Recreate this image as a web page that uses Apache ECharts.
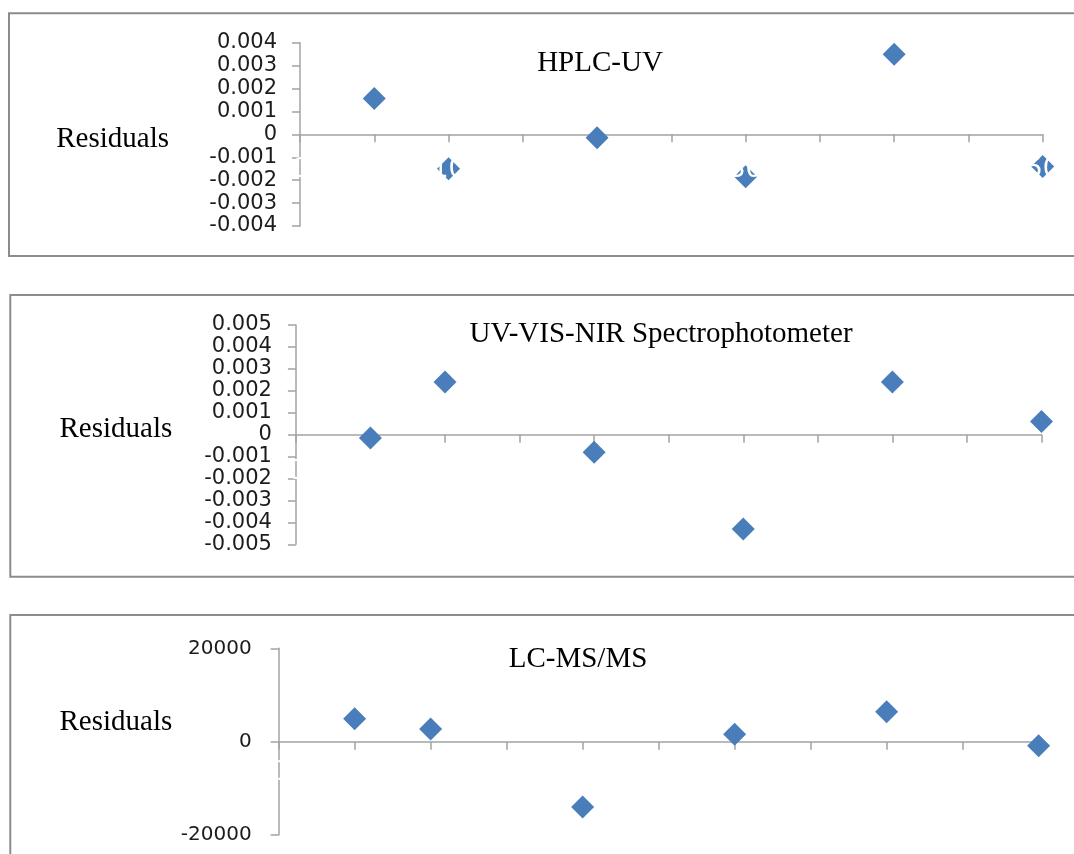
<!DOCTYPE html>
<html>
<head>
<meta charset="utf-8">
<script src="https://cdn.jsdelivr.net/npm/echarts@6/dist/echarts.min.js"></script>
<style>
  html, body { margin: 0; padding: 0; background: #ffffff; }
  #chart { width: 1074px; height: 854px; }
</style>
</head>
<body>
<div id="chart"></div>
<script>
// Concentration levels (x) shared by the three residual plots
const concentrations = [5, 10, 20, 30, 40, 50];
const xTickStep = 5;
const xMin = 0;
const xMax = 50;
const xLabelStep = 10;

// Residuals per method
const hplcResiduals = [0.00157, -0.0015, -0.00015, -0.00185, 0.0035, -0.0014];
const uvVisResiduals = [-0.00015, 0.0024, -0.0008, -0.0043, 0.0024, 0.0006];
const lcmsResiduals = [4900, 2700, -14000, 1600, 6400, -900];

// Y-axis tick values
const hplcTicks = [-0.004, -0.003, -0.002, -0.001, 0, 0.001, 0.002, 0.003, 0.004];
const uvVisTicks = [-0.005, -0.004, -0.003, -0.002, -0.001, 0, 0.001, 0.002, 0.003, 0.004, 0.005];
const lcmsTicks = [-20000, 0, 20000];

const panelTitles = ['HPLC-UV', 'UV-VIS-NIR Spectrophotometer', 'LC-MS/MS'];
const yAxisTitle = 'Residuals';

const MARKER = '#4a7ebb';
const AXIS_GRAY = '#a3a3a3';
const FRAME_GRAY = '#8c8c8c';
const SERIF = '"Liberation Serif", "Times New Roman", serif';
const SANS = '"DejaVu Sans", sans-serif';

function fmtTick(decimals) {
  return function (v) {
    if (Math.abs(v) < 1e-12) return '0';
    return decimals ? v.toFixed(decimals) : String(Math.round(v));
  };
}

// Layout of each framed panel
const panels = [
  {
    values: hplcResiduals, ticks: hplcTicks, decimals: 3,
    grid: { left: 300, top: 42.7, width: 742.7, height: 183.3 },
    frame: { x: 9, y: 13.3, width: 1090, height: 242.7 },
    title: { x: 600, y: 63.5 }, name: { x: 112.6, y: 139 },
    labelSize: 21, labelMargin: 23, whiteMargin: -69
  },
  {
    values: uvVisResiduals, ticks: uvVisTicks, decimals: 3,
    grid: { left: 295.9, top: 325, width: 745.6, height: 219.3 },
    frame: { x: 10.3, y: 295, width: 1090, height: 281.7 },
    title: { x: 661, y: 334 }, name: { x: 115.9, y: 429.5 },
    labelSize: 21, labelMargin: 24, whiteMargin: -85
  },
  {
    values: lcmsResiduals, ticks: lcmsTicks, decimals: 0,
    grid: { left: 278.6, top: 648.3, width: 760, height: 186.7 },
    frame: { x: 10.3, y: 615, width: 1090, height: 300 },
    title: { x: 578, y: 659 }, name: { x: 115.9, y: 722 },
    labelSize: 20, labelMargin: 27, whiteMargin: -74.5
  }
];

const grid = [], xAxis = [], yAxis = [], series = [], graphic = [];

panels.forEach(function (p, i) {
  grid.push(Object.assign({ containLabel: false }, p.grid));

  // visible x axis, crossing at zero
  xAxis.push({
    type: 'value', gridIndex: i, min: xMin, max: xMax, interval: xTickStep,
    position: 'bottom',
    axisLine: { show: true, onZero: true, lineStyle: { color: AXIS_GRAY, width: 1.5 } },
    axisTick: { show: true, inside: false, length: 8, lineStyle: { color: AXIS_GRAY, width: 1.5 } },
    axisLabel: { show: false },
    splitLine: { show: false }
  });

  const ticks = p.ticks;
  yAxis.push({
    type: 'value', gridIndex: i,
    min: ticks[0], max: ticks[ticks.length - 1], interval: ticks[1] - ticks[0],
    axisLine: { show: true, onZero: false, lineStyle: { color: AXIS_GRAY, width: 1.5 } },
    axisTick: { show: true, inside: false, length: 8, lineStyle: { color: AXIS_GRAY, width: 1.5 } },
    axisLabel: {
      show: true, color: '#1c1c1c', fontFamily: SANS, fontSize: p.labelSize,
      margin: p.labelMargin, formatter: fmtTick(p.decimals)
    },
    splitLine: { show: false }
  });

  series.push({
    type: 'scatter', xAxisIndex: i, yAxisIndex: i,
    symbol: 'diamond', symbolSize: 23,
    itemStyle: { color: MARKER, opacity: 1 },
    emphasis: { disabled: true },
    data: concentrations.map(function (c, k) { return [c, p.values[k]]; })
  });

  graphic.push({
    type: 'rect', silent: true, z: 0,
    shape: p.frame,
    style: { fill: 'none', stroke: FRAME_GRAY, lineWidth: 2 }
  });
  graphic.push({
    type: 'text', silent: true, x: p.title.x, y: p.title.y,
    style: { text: panelTitles[i], fill: '#000', fontFamily: SERIF, fontSize: 29, align: 'center', verticalAlign: 'middle' }
  });
  graphic.push({
    type: 'text', silent: true, x: p.name.x, y: p.name.y,
    style: { text: yAxisTitle, fill: '#000', fontFamily: SERIF, fontSize: 29, align: 'center', verticalAlign: 'middle' }
  });
});

// white category labels of the x axes, drawn above the markers
panels.forEach(function (p, i) {
  xAxis.push({
    type: 'value', gridIndex: i, min: xMin, max: xMax, interval: xLabelStep,
    position: 'bottom', z: 5,
    axisLine: { show: false, onZero: false },
    axisTick: { show: false },
    splitLine: { show: false },
    axisLabel: { show: true, color: '#ffffff', fontFamily: SANS, fontSize: 26, margin: p.whiteMargin }
  });
});

const chart = echarts.init(document.getElementById('chart'), null, { renderer: 'canvas' });
chart.setOption({
  animation: false,
  backgroundColor: '#ffffff',
  grid: grid,
  xAxis: xAxis,
  yAxis: yAxis,
  series: series,
  graphic: graphic
});
</script>
</body>
</html>
